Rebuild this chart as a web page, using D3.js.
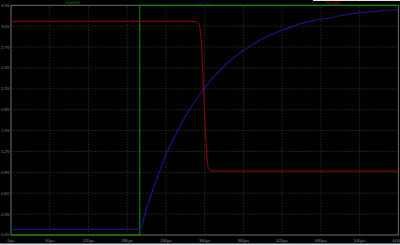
<!DOCTYPE html>
<html><head><meta charset="utf-8">
<script src="https://cdn.jsdelivr.net/npm/d3@7"></script>
<style>html,body{margin:0;padding:0;background:#000;overflow:hidden}svg{display:block}</style>
</head><body>
<svg id="c" width="400" height="245"></svg>
<script>
const xTicks = [0,60,120,180,240,300,360,420,480,540,600];
const xTickLabels = ["0µs","60µs","120µs","180µs","240µs","300µs","360µs","420µs","480µs","540µs","600µs"];
const yTicks = [0,0.3,0.6,0.9,1.2,1.5,1.8,2.1,2.4,2.7,3.0,3.3];
const yTickLabels = ["0.0V","0.3V","0.6V","0.9V","1.2V","1.5V","1.8V","2.1V","2.4V","2.7V","3.0V","3.3V"];
const seriesNames = ["V(n001)","V(n002)","V(n003)"];
// V(n001): input step
const t1 = [0,199.5,199.5,600];
const v1 = [0,0,3.3,3.3];
// V(n002): RC node
const t2 = [0,199.5,210,220,230,240,250,260,270,280,290,300,320,340,360,380,400,420,450,480,510,540,570,600];
const v2 = [0.08,0.08,0.39,0.66,0.91,1.16,1.35,1.53,1.70,1.85,1.99,2.12,2.33,2.51,2.65,2.77,2.87,2.94,3.04,3.10,3.15,3.19,3.22,3.24];
// V(n003): output
const t3 = [0,284,288,291,293,295,297,299,301,303,304.5,306,308,312,600];
const v3 = [3.07,3.07,3.06,3.03,2.96,2.75,2.35,1.95,1.55,1.2,1.03,0.96,0.93,0.92,0.92];

const svg = d3.select("#c");
const x = d3.scaleLinear().domain([0,600]).range([11,398.3]);
const y = d3.scaleLinear().domain([0,3.3]).range([235,5.3]);
const font = "'Liberation Sans', Arial, sans-serif";

svg.append("rect").attr("width",400).attr("height",245).attr("fill","#000");
svg.append("rect").attr("x",313).attr("y",0).attr("width",87).attr("height",1).attr("fill","#e6e6e6");
svg.append("rect").attr("x",0).attr("y",243.5).attr("width",400).attr("height",1.5).attr("fill","#dde1e6");

// grid
const g = svg.append("g");
g.selectAll("line.h").data(yTicks.slice(1,-1)).join("line")
  .attr("x1",x(0)).attr("x2",x(600)).attr("y1",d=>y(d)).attr("y2",d=>y(d))
  .attr("stroke","#3a3a3a").attr("stroke-width",0.8).attr("stroke-dasharray","1.2,1.6");
g.selectAll("line.v").data(xTicks.slice(1,-1)).join("line")
  .attr("y1",y(0)).attr("y2",y(3.3)).attr("x1",d=>x(d)).attr("x2",d=>x(d))
  .attr("stroke","#3a3a3a").attr("stroke-width",0.8).attr("stroke-dasharray","1.2,1.6");

// frame
svg.append("rect").attr("x",x(0)).attr("y",y(3.3)).attr("width",x(600)-x(0)).attr("height",y(0)-y(3.3))
  .attr("fill","none").attr("stroke","#7a7a7a").attr("stroke-width",0.9);

// axes labels
svg.selectAll("text.y").data(yTicks).join("text")
  .attr("x",9.5).attr("y",d=>y(d)).attr("dy","0.35em").attr("text-anchor","end")
  .attr("font-family",font).attr("font-size",4.2).attr("fill","#8a8a8a")
  .text((d,i)=>yTickLabels[i]);
svg.selectAll("text.x").data(xTicks).join("text")
  .attr("x",d=>x(d)).attr("y",241.6).attr("text-anchor","middle")
  .attr("font-family",font).attr("font-size",4.2).attr("fill","#8a8a8a")
  .text((d,i)=>xTickLabels[i]);

const line = d3.line().x(d=>x(d[0])).y(d=>y(d[1]));
const lineS = d3.line().x(d=>x(d[0])).y(d=>y(d[1])).curve(d3.curveMonotoneX);
const colors = ["#009400","#16167e","#a00000"];

svg.append("path").attr("d",line(t1.map((t,i)=>[t,v1[i]]))).attr("fill","none").attr("stroke",colors[0]).attr("stroke-width",1);
svg.append("path").attr("d",lineS(t2.map((t,i)=>[t,v2[i]]))).attr("fill","none").attr("stroke",colors[1]).attr("stroke-width",1.2);
svg.append("path").attr("d",lineS(t3.map((t,i)=>[t,v3[i]]))).attr("fill","none").attr("stroke",colors[2]).attr("stroke-width",1);

// legend
const legX = [73,203,332];
svg.selectAll("text.leg").data(seriesNames).join("text")
  .attr("x",(d,i)=>legX[i]).attr("y",3.6).attr("text-anchor","middle")
  .attr("font-family",font).attr("font-size",4.2).attr("fill",(d,i)=>colors[i])
  .text(d=>d);
</script>
</body></html>
